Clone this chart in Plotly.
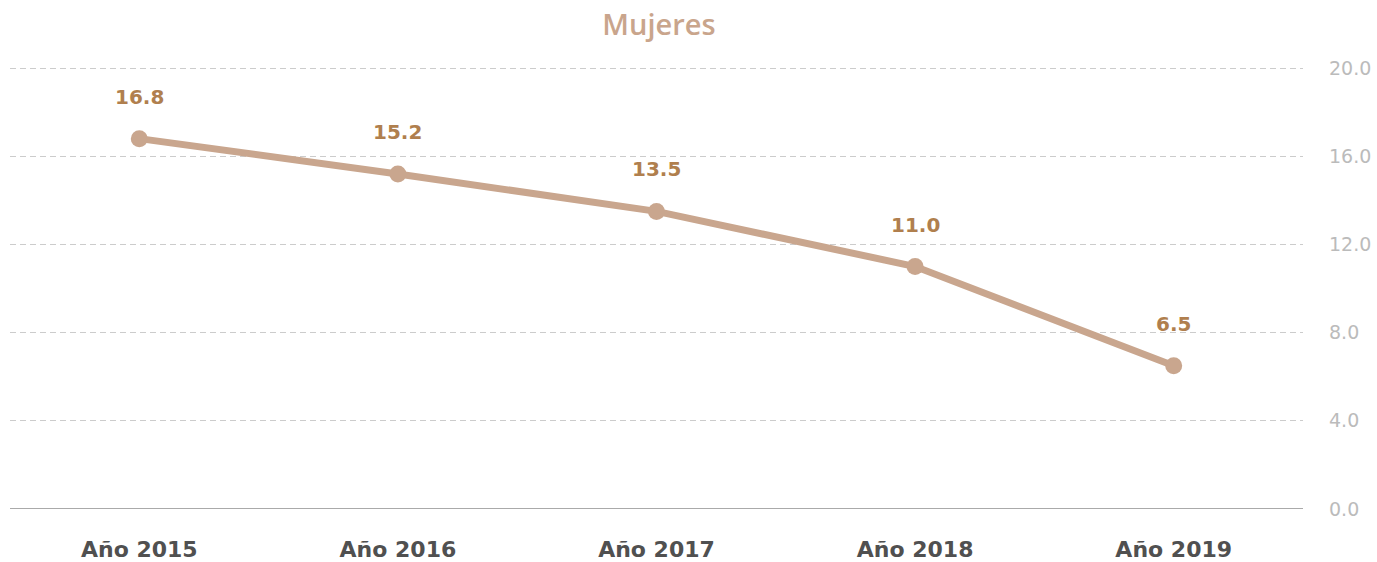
import plotly.graph_objects as go

categories = ["Año 2015", "Año 2016", "Año 2017", "Año 2018", "Año 2019"]
values = [16.8, 15.2, 13.5, 11.0, 6.5]
tick_vals = [0, 4, 8, 12, 16, 20]
tick_text = ["0.0", "4.0", "8.0", "12.0", "16.0", "20.0"]

line_color = "#c9a68e"
label_color = "#b07f4e"
wide_font = "DejaVu Sans"

fig = go.Figure()
fig.add_trace(go.Scatter(
    x=categories, y=values, mode="lines+markers",
    line=dict(color=line_color, width=7),
    marker=dict(color=line_color, size=17),
    showlegend=False, hoverinfo="skip",
))
for c, v in zip(categories, values):
    fig.add_annotation(x=c, y=v, text=f"{v:.1f}", showarrow=False, yshift=42,
                       font=dict(family=wide_font, size=20, color=label_color, weight="bold"))

fig.update_layout(
    width=1377, height=562,
    margin=dict(l=10, r=74, t=67, b=53),
    paper_bgcolor="white", plot_bgcolor="white",
    title=dict(text="Mujeres", x=0.4785, xanchor="center", y=0.955, yanchor="middle",
               font=dict(family="Open Sans", size=29, color="#c9a58c", weight=600)),
    xaxis=dict(type="category", range=[-0.5, 4.5], showgrid=False, showline=False,
               zeroline=False, ticks="", automargin=False,
               tickfont=dict(family=wide_font, size=22, color="#505050", weight="bold"),
               ticklabelstandoff=25),
    yaxis=dict(side="right", range=[0, 20.05], tickvals=tick_vals, ticktext=tick_text,
               showgrid=True, gridcolor="#cccccc", griddash="6px,4px", gridwidth=1,
               zeroline=False, showline=False, ticks="", automargin=False,
               tickfont=dict(family=wide_font, size=19, color="#bbbbbb"), ticklabelstandoff=25),
)
fig.add_shape(type="line", xref="paper", yref="y", x0=0, x1=1, y0=0, y1=0,
              line=dict(color="#aaaaaa", width=2))
fig.write_html("out.html", config={"displayModeBar": False},
               post_script="document.body.style.margin='0';document.body.style.overflow='hidden';")
